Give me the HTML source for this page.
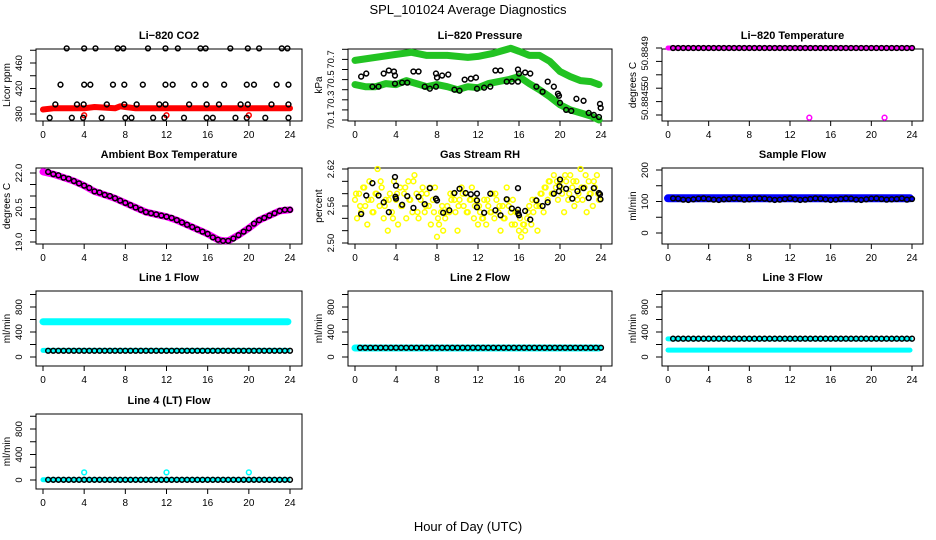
<!DOCTYPE html>
<html><head><meta charset="utf-8"><style>
html,body{margin:0;padding:0;background:#fff;}
svg{display:block;font-family:"Liberation Sans",Arial,sans-serif;}
</style></head><body>
<svg id="chart" width="936" height="540" viewBox="0 0 936 540" xmlns="http://www.w3.org/2000/svg">
<text x="468" y="14" text-anchor="middle" font-size="13">SPL_101024  Average Diagnostics</text>
<text x="468" y="531" text-anchor="middle" font-size="13">Hour of Day (UTC)</text>
</svg>
<script>
// ---------- data ----------
const xTicks = [0,4,8,12,16,20,24];
// CO2
const co2BlackT = [2.3,4.0,5.1,7.25,7.8,10.2,11.9,13.1,15.3,15.8,18.2,19.9,21.0,23.2,23.75,
 1.7,4.0,4.6,6.8,7.9,9.7,11.9,12.6,14.7,15.8,17.6,19.8,20.5,22.7,23.85,
 1.2,3.3,3.95,6.2,7.9,9.1,11.3,11.9,14.2,15.9,17.1,19.2,19.9,22.2,23.85,
 0.65,2.8,3.9,5.7,8.0,8.6,10.7,11.8,13.7,15.9,16.5,18.7,19.8,21.6,23.85];
const co2BlackV = [483,483,483,483,483,483,483,483,483,483,483,483,483,483,483,
 426,426,426,426,426,426,426,426,426,426,426,426,426,426,426,
 395,395,395,395,395,395,395,395,395,395,395,395,395,395,395,
 374,374,374,374,374,374,374,374,374,374,374,374,374,374,374];
const co2RedT = [0,1,2,3,4,5,6,7,7.5,8,9,10,12,14,16,18,20,22,24];
const co2RedV = [387,389,389,389,389,391,390,389,392,391,389,389,389,389,389,389,389,389,389];
const co2RedOutT = [4,12,20];
const co2RedOutV = [378,378,378];
const co2Ticks = [380,400,420,440,460,480];
const co2Labels = ["380","","420","","460",""];
// Pressure
const presUpT = [0,2,4,5.5,7,9,11,12,13.5,15.2,16,17,18,19,20,21,22,23,23.8];
const presUpV = [70.69,70.72,70.75,70.77,70.74,70.74,70.72,70.73,70.76,70.81,70.78,70.74,70.74,70.68,70.58,70.53,70.49,70.48,70.45];
const presLoT = [0,1,2,3,4,5,6,7,8,9,10,11,12,13,14,15,16,17,18,19,20,21,22,23,23.8];
const presLoV = [70.45,70.43,70.43,70.46,70.45,70.49,70.46,70.43,70.45,70.43,70.40,70.43,70.42,70.46,70.48,70.50,70.53,70.46,70.40,70.33,70.25,70.20,70.17,70.14,70.10];
const presBlackT = [0.6,1.1,1.7,2.3,2.8,3.3,3.8,3.9,3.9,4.6,5.1,5.7,6.2,6.8,7.3,7.9,7.9,8.0,8.5,9.1,9.7,10.2,10.7,11.3,11.8,11.9,12.6,13.2,13.7,14.2,14.8,15.3,15.9,15.9,16.0,16.6,17.1,17.7,18.3,18.8,19.4,19.8,19.9,20.0,20.6,21.1,21.6,22.3,22.8,23.3,23.8,23.9,23.97];
const presBlackV = [70.53,70.56,70.43,70.43,70.56,70.59,70.58,70.54,70.46,70.47,70.47,70.58,70.58,70.43,70.41,70.43,70.56,70.52,70.54,70.55,70.40,70.39,70.50,70.51,70.52,70.41,70.42,70.43,70.59,70.59,70.48,70.48,70.48,70.60,70.56,70.57,70.56,70.43,70.38,70.48,70.43,70.36,70.34,70.27,70.20,70.19,70.31,70.29,70.17,70.15,70.13,70.26,70.22];
const presTicks = [70.1,70.2,70.3,70.4,70.5,70.6,70.7,70.8];
const presLabels = ["70.1","","70.3","","70.5","","70.7",""];
// Li-820 temperature
const ltempLineT = [0,24];
const ltempLineV = [50.8849,50.8849];
const ltempOutT = [13.9,21.3];
const ltempOutV = [50.88438,50.88438];
const ltempTicks = [50.8844,50.8845,50.8846,50.8847,50.8848,50.8849];
const ltempLabelV = [50.88449,50.88465,50.88486];
const ltempLabels = ["50.8845","50","50.8849"];
// Ambient
const ambLineT = [0,1,2,3,4,5,6,7,8,9,10,11,12,13,14,15,16,17,17.5,18,19,20,21,22,23,24];
const ambLineV = [22.05,21.95,21.8,21.65,21.45,21.2,21.05,20.9,20.7,20.5,20.3,20.2,20.1,19.95,19.75,19.55,19.35,19.1,19.05,19.05,19.3,19.6,19.95,20.15,20.35,20.4];
const ambBlackV = [22.05,21.95,21.9,21.8,21.75,21.65,21.55,21.45,21.35,21.2,21.15,21.05,21.0,20.9,20.8,20.7,20.6,20.5,20.4,20.3,20.25,20.2,20.15,20.1,20.05,19.95,19.85,19.75,19.65,19.55,19.45,19.35,19.2,19.1,19.05,19.05,19.15,19.3,19.45,19.6,19.8,19.95,20.05,20.15,20.25,20.35,20.4,20.4];
const ambTicks = [19.0,19.5,20.0,20.5,21.0,21.5,22.0];
const ambLabels = ["19.0","","","20.5","","","22.0"];
// RH
const rhYellowV = [2.57,2.54,2.58,2.55,2.59,2.56,2.53,2.60,2.57,2.55,2.58,2.62,2.56,2.59,2.54,2.57,2.52,2.58,2.55,2.60,2.57,
 2.53,2.59,2.56,2.58,2.54,2.60,2.57,2.55,2.61,2.58,2.54,2.57,2.59,2.55,2.58,2.56,2.53,2.57,2.59,2.51,
 2.53,2.55,2.52,2.54,2.56,2.55,2.57,2.58,2.55,2.52,2.57,2.59,2.56,2.58,2.55,2.57,2.59,2.54,2.57,2.53,
 2.55,2.54,2.57,2.53,2.56,2.55,2.58,2.54,2.57,2.55,2.52,2.56,2.54,2.59,2.56,2.55,2.57,2.53,2.55,2.52,
 2.51,2.53,2.52,2.54,2.56,2.53,2.55,2.57,2.52,2.56,2.58,2.55,2.59,2.57,2.60,2.58,2.61,2.59,2.57,2.60,
 2.58,2.55,2.60,2.57,2.61,2.59,2.56,2.60,2.58,2.62,2.57,2.59,2.55,2.60,2.58,2.56,2.59,2.61,2.57];
const rhYellow2V = [2.58,2.56,2.59,2.57,2.55,2.58,2.60,2.56,2.57,2.54,
 2.58,2.56,2.59,2.57,2.60,2.55,2.58,2.56,2.59,2.55,
 2.54,2.56,2.55,2.58,2.57,2.56,2.58,2.55,2.57,2.56,
 2.56,2.54,2.57,2.55,2.58,2.56,2.54,2.57,2.53,2.55,
 2.54,2.53,2.55,2.57,2.56,2.58,2.59,2.60,2.58,2.60,
 2.59,2.61,2.58,2.60,2.57,2.59,2.61,2.58,2.60,2.58];
const rhBlackT = [0.6,1.1,1.7,2.3,2.8,3.3,3.9,4.0,3.95,4.0,4.6,5.1,5.7,6.2,6.8,7.3,7.9,8.0,8.6,9.2,9.7,10.2,10.8,11.3,11.9,11.9,11.9,12.6,13.2,13.7,14.2,14.8,15.3,15.9,15.9,15.93,16.0,16.6,17.1,17.7,18.3,18.8,19.4,19.9,19.95,20.0,20.6,21.2,21.7,22.3,22.8,23.3,23.8,23.9,23.95];
const rhBlackV = [2.547,2.577,2.597,2.577,2.566,2.550,2.607,2.593,2.575,2.572,2.562,2.576,2.557,2.575,2.563,2.589,2.572,2.569,2.549,2.553,2.581,2.588,2.581,2.579,2.580,2.569,2.558,2.549,2.580,2.553,2.545,2.571,2.556,2.589,2.554,2.548,2.545,2.552,2.538,2.569,2.560,2.566,2.580,2.584,2.592,2.603,2.588,2.572,2.584,2.589,2.573,2.589,2.581,2.579,2.571];
const rhTicks = [2.50,2.52,2.54,2.56,2.58,2.60,2.62];
const rhLabels = ["2.50","","","2.56","","","2.62"];
// Sample flow
const sampLineT = [0,24];
const sampLineV = [110,110];
const sampBlackV = [110,109,106,105,107,109,110,108,106,105,107,108,110,109,106,107,109,110,109,107,105,106,108,110,107,105,106,108,110,109,107,105,106,108,110,109,106,105,107,109,110,108,106,107,108,110,106,108];
const flowTicks200 = [0,50,100,150,200];
const flowLabels200 = ["0","","100","","200"];
// Line flows
const flowTicks = [0,200,400,600,800,1000];
const flowLabels = ["0","","400","","800",""];
const l1CyanHighV = [565,565];
const l1CyanLowV = [105,105];
const l1BlackV = [100,100];
const l2CyanV = [144,144];
const l2BlackV = [148,148];
const l3CyanHighV = [290,290];
const l3CyanLowV = [110,110];
const l3BlackV = [293,293];
const l4CyanV = [5,5];
const l4BlackV = [3,3];
const l4OutT = [4,12,20];
const l4OutV = [120,120,120];
const lineT = [0,23.8];

// ---------- layout ----------
const NS = "http://www.w3.org/2000/svg";
const svg = document.getElementById('chart');
const cols = [{bl:36,br:302,x0:43,x24:290},{bl:348,br:612,x0:355,x24:601},{bl:662,br:923,x0:668,x24:912}];
const rows = [{bt:49,bb:121},{bt:168,bb:244},{bt:291,bb:366},{bt:414,bb:489}];

function mk(tag, attrs, parent){
  const e = document.createElementNS(NS, tag);
  for (const k in attrs) e.setAttribute(k, attrs[k]);
  (parent||svg).appendChild(e);
  return e;
}

function panel(name, title, ylab, c, r, ya, pa, yb, pb, ticks, labels, labelVals){
  const C = cols[c], R = rows[r];
  const g = mk('g', {});
  
  
  const sx = t => C.x0 + t/24*(C.x24-C.x0);
  const sy = v => pa + (v-ya)*(pb-pa)/(yb-ya);
  const box = mk('rect', {x:C.bl, y:R.bt, width:C.br-C.bl, height:R.bb-R.bt, fill:'none', stroke:'#000', 'stroke-width':1}, g);
  
  
  const tt = mk('text', {x:(C.bl+C.br)/2, y:R.bt-10, 'text-anchor':'middle', 'font-size':11, 'font-weight':'bold'}, g);
  tt.textContent = title;
  
  
  // x axis
  const xa = mk('g', {}, g);
  
  
  xTicks.forEach(t => {
    mk('line', {x1:sx(t), x2:sx(t), y1:R.bb, y2:R.bb+5, stroke:'#000'}, xa);
    const lt = mk('text', {x:sx(t), y:R.bb+17, 'text-anchor':'middle', 'font-size':10}, xa);
    lt.textContent = t;
    
    
  });
  // y axis
  const ya_ = mk('g', {}, g);
  
  
  const ax = C.bl;
  ticks.forEach(v => {
    mk('line', {x1:ax-6, x2:ax, y1:sy(v), y2:sy(v), stroke:'#000'}, ya_);
  });
  const lv = labelVals || ticks;
  lv.forEach((v,i) => {
    if (!labels[i]) return;
    const lx = ax-14, ly = sy(v);
    const lt = mk('text', {x:lx, y:ly, 'text-anchor':'middle', 'font-size':9.5, transform:`rotate(-90 ${lx} ${ly})`}, ya_);
    lt.textContent = labels[i];
    
    
  });
  const yt = mk('text', {x:C.bl-26, y:(R.bt+R.bb)/2, 'text-anchor':'middle', 'font-size':10, transform:`rotate(-90 ${C.bl-26} ${(R.bt+R.bb)/2})`}, g);
  yt.textContent = ylab;
  
  
  const plot = mk('g', {}, g);
  
  
  return {sx, sy, g:plot};
}

function band(P, ts, vs, color, w, nm){
  const pts = ts.map((t,i)=>P.sx(t).toFixed(1)+','+P.sy(vs[i]).toFixed(1)).join(' ');
  const pl = mk('polyline', {points:pts, fill:'none', stroke:color, 'stroke-width':w, 'stroke-linejoin':'round', 'stroke-linecap':'round'}, P.g);
  
  
}
function dots(P, ts, vs, color, nm, r, sw){
  ts.forEach((t,i) => {
    const c = mk('circle', {cx:P.sx(t), cy:P.sy(vs[i]), r:r||2.4, fill:'none', stroke:color, 'stroke-width':sw||1.5}, P.g);
    
    
  });
}
const halfHours = ambBlackV.map((v,i)=>(i+1)*0.5);
const yellowT = rhYellowV.map((v,i)=>i*0.2);
const yellow2T = rhYellow2V.map((v,i)=>0.1+i*0.4);

// CO2
let P = panel('co2','Li−820 CO2','Licor ppm',0,0,380,114,460,63,co2Ticks,co2Labels);
band(P, co2RedT, co2RedV, '#f00', 6, 'co2-red-series');
dots(P, co2RedOutT, co2RedOutV, '#f00', 'co2-red-point');
dots(P, co2BlackT, co2BlackV, '#000', 'co2-black-point');
// Pressure
P = panel('pressure','Li−820 Pressure','kPa',1,0,70.1,120,70.7,59.4,presTicks,presLabels);
band(P, presUpT, presUpV, '#22c322', 7, 'pressure-upper-band');
band(P, presLoT, presLoV, '#22c322', 7, 'pressure-lower-band');
dots(P, presBlackT, presBlackV, '#000', 'pressure-black-point');
// Li temp
P = panel('li820-temp','Li−820 Temperature','degrees C',2,0,50.8849,48,50.8844,115,ltempTicks,ltempLabels,ltempLabelV);
band(P, ltempLineT, ltempLineV, '#f0f', 5, 'li820-temp-magenta-series');
dots(P, halfHours, halfHours.map(()=>ltempLineV[0]), '#000', 'li820-temp-black-point');
dots(P, ltempOutT, ltempOutV, '#f0f', 'li820-temp-outlier');
// Ambient
P = panel('ambient','Ambient Box Temperature','degrees C',0,1,22.0,173,19.0,242,ambTicks,ambLabels);
band(P, ambLineT, ambLineV, '#f0f', 7, 'ambient-magenta-series');
dots(P, halfHours, ambBlackV, '#000', 'ambient-black-point');
// RH
P = panel('rh','Gas Stream RH','percent',1,1,2.62,169,2.50,243,rhTicks,rhLabels);
dots(P, yellowT, rhYellowV, '#ff0', 'rh-yellow-point', 2.4, 1.5);
dots(P, yellow2T, rhYellow2V, '#ff0', 'rh-yellow-point', 2.4, 1.5);
dots(P, rhBlackT, rhBlackV, '#000', 'rh-black-point');
// Sample flow
P = panel('sample-flow','Sample Flow','ml/min',2,1,200,170,0,233,flowTicks200,flowLabels200);
band(P, lineT, sampLineV, '#00f', 8, 'sample-flow-blue-band');
dots(P, halfHours, sampBlackV, '#000', 'sample-flow-black-point');
// Line 1
P = panel('line1-flow','Line 1 Flow','ml/min',0,2,0,357,800,307,flowTicks,flowLabels);
band(P, lineT, l1CyanHighV, '#0ff', 7, 'line1-cyan-high');
band(P, lineT, l1CyanLowV, '#0ff', 5, 'line1-cyan-low');
dots(P, halfHours, halfHours.map(()=>l1BlackV[0]), '#000', 'line1-black-point');
// Line 2
P = panel('line2-flow','Line 2 Flow','ml/min',1,2,0,357,800,307,flowTicks,flowLabels);
band(P, lineT, l2CyanV, '#0ff', 7, 'line2-cyan-band');
dots(P, halfHours, halfHours.map(()=>l2BlackV[0]), '#000', 'line2-black-point');
// Line 3
P = panel('line3-flow','Line 3 Flow','ml/min',2,2,0,357,800,307,flowTicks,flowLabels);
band(P, lineT, l3CyanHighV, '#0ff', 5, 'line3-cyan-high');
band(P, lineT, l3CyanLowV, '#0ff', 5, 'line3-cyan-low');
dots(P, halfHours, halfHours.map(()=>l3BlackV[0]), '#000', 'line3-black-point');
// Line 4
P = panel('line4-flow','Line 4 (LT) Flow','ml/min',0,3,0,480,800,429,flowTicks,flowLabels);
band(P, lineT, l4CyanV, '#0ff', 5, 'line4-cyan-band');
dots(P, halfHours, halfHours.map(()=>l4BlackV[0]), '#000', 'line4-black-point');
dots(P, l4OutT, l4OutV, '#0ff', 'line4-cyan-outlier');
</script>
</body></html>
